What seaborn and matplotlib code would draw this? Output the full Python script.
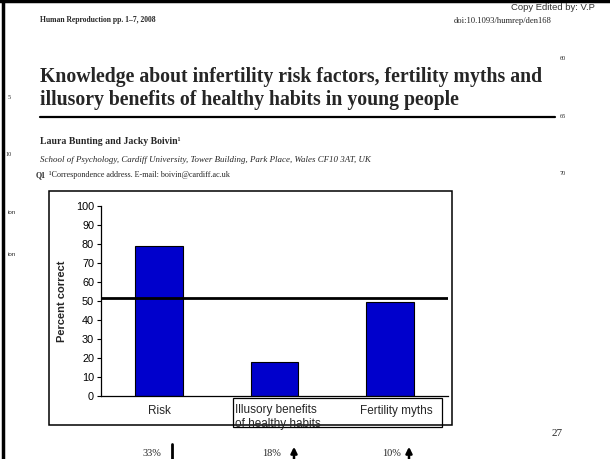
import matplotlib
matplotlib.use("Agg")
import matplotlib.pyplot as plt
import seaborn as sns
import pandas as pd
from matplotlib.patches import Rectangle
from matplotlib.lines import Line2D

# ---- data ----
categories = ["Risk", "Illusory benefits", "Fertility myths"]
percent_correct = [79, 18, 49.5]
reference_level = 51.5
y_ticks = list(range(0, 101, 10))
bottom_notes = ["33%", "18%", "10%"]

sns.set_style("white")
plt.rcParams["font.family"] = ["Liberation Sans", "DejaVu Sans"]

W, H = 610, 459
fig = plt.figure(figsize=(W / 100, H / 100), dpi=100)

def fx(x):
    return x / W

def fy(y):
    return 1 - y / H

SERIF = ["Liberation Serif", "DejaVu Serif"]
SANS = ["Liberation Sans", "DejaVu Sans"]

# ---- chart axes ----
ax = fig.add_axes([fx(101), fy(396), (448 - 101) / W, (396 - 206) / H])
df = pd.DataFrame({"category": categories, "value": percent_correct})
sns.barplot(data=df, x="category", y="value", color="#0000CC", saturation=1,
            width=0.41, edgecolor="black", linewidth=0.8, ax=ax)
ax.axhline(reference_level, color="black", lw=2)
ax.set_xlim(-0.5, 2.5)
ax.set_ylim(0, 100)
ax.set_yticks(y_ticks)
ax.set_yticklabels([str(t) for t in y_ticks], fontsize=7.8, family=SANS)
ax.set_xticks([])
ax.set_xlabel("")
ax.set_ylabel("")
ax.tick_params(axis="y", direction="out", length=3, width=0.8, pad=2, left=True, colors="black")
for s in ["top", "right"]:
    ax.spines[s].set_visible(False)
for s in ["left", "bottom"]:
    ax.spines[s].set_color("black")
    ax.spines[s].set_linewidth(0.9)
ax.patch.set_alpha(0)

fig.text(fx(62), fy(301), "Percent correct", rotation=90, ha="center", va="center",
         fontsize=8, weight="bold", family=SANS)

# outer chart box and label box
fig.add_artist(Rectangle((fx(49), fy(425)), (452 - 49) / W, (425 - 191) / H,
                         transform=fig.transFigure, fill=False, lw=1.1, ec="black"))
fig.add_artist(Rectangle((fx(233), fy(427)), (442 - 233) / W, (427 - 398) / H,
                         transform=fig.transFigure, fill=False, lw=0.9, ec="black"))

fig.text(fx(159), fy(411), categories[0], ha="center", va="center", fontsize=8.5, family=SANS)
fig.text(fx(235), fy(410), "Illusory benefits", ha="left", va="center", fontsize=8.5, family=SANS)
fig.text(fx(235), fy(424), "of healthy habits", ha="left", va="center", fontsize=8.5, family=SANS)
fig.text(fx(396), fy(411), categories[2], ha="center", va="center", fontsize=8.5, family=SANS)

# ---- page decorations ----
fig.add_artist(Line2D([fx(3), fx(3)], [0, 1], lw=2.5, color="black", transform=fig.transFigure))
fig.add_artist(Line2D([0, 1], [fy(1), fy(1)], lw=2.5, color="black", transform=fig.transFigure))

fig.text(fx(40), fy(20), "Human Reproduction pp. 1\u20137, 2008", ha="left", va="center",
         fontsize=5.5, weight="bold", family=SERIF)
fig.text(fx(552), fy(21), "doi:10.1093/humrep/den168", ha="right", va="center",
         fontsize=6.2, family=SERIF)
fig.text(fx(595), fy(7), "Copy Edited by: V.P", ha="right", va="center",
         fontsize=6.8, family=SANS, color="#333333")

fig.text(fx(40), fy(77), "Knowledge about infertility risk factors, fertility myths and",
         ha="left", va="center", fontsize=14.2, weight="bold", family=SERIF)
fig.text(fx(40), fy(100), "illusory benefits of healthy habits in young people",
         ha="left", va="center", fontsize=14.2, weight="bold", family=SERIF)
fig.add_artist(Line2D([fx(40), fx(555)], [fy(117), fy(117)], lw=1.6, color="black",
                      transform=fig.transFigure))

fig.text(fx(40), fy(142), "Laura Bunting and Jacky Boivin\u00b9", ha="left", va="center",
         fontsize=7.0, weight="bold", family=SERIF)
fig.text(fx(40), fy(160), "School of Psychology, Cardiff University, Tower Building, Park Place, Wales CF10 3AT, UK",
         ha="left", va="center", fontsize=6.4, style="italic", family=SERIF)
fig.text(fx(36), fy(175), "Q1", ha="left", va="center", fontsize=5.8, weight="bold", family=SERIF)
fig.text(fx(49), fy(175), "\u00b9Correspondence address. E-mail: boivin@cardiff.ac.uk",
         ha="left", va="center", fontsize=5.9, family=SERIF)

for txt, x, y in [("5", 9, 97), ("10", 9, 154)]:
    fig.text(fx(x), fy(y), txt, ha="center", va="center", fontsize=4.5, family=SERIF)
for txt, y in [("60", 58), ("65", 117), ("70", 173)]:
    fig.text(fx(563), fy(y), txt, ha="center", va="center", fontsize=4.5, family=SERIF)
for y in [212, 255]:
    fig.text(fx(12), fy(y), "ion", ha="center", va="center", fontsize=4.5, family=SANS)

# bottom notes with arrows
note_x = [152, 272, 392]
arrow_x = [172, 294, 409]
for i, (txt, nx, axx) in enumerate(zip(bottom_notes, note_x, arrow_x)):
    fig.text(fx(nx), fy(454), txt, ha="center", va="center", fontsize=7.5, family=SERIF)
    if i == 0:
        fig.add_artist(Line2D([fx(axx), fx(axx)], [fy(444), fy(462)], lw=2, color="black",
                              transform=fig.transFigure))
    else:
        ax.annotate("", xy=(axx, H - 444), xytext=(axx, -5), xycoords="figure pixels",
                    textcoords="figure pixels",
                    arrowprops=dict(arrowstyle="-|>", lw=1.8, color="black", mutation_scale=9),
                    annotation_clip=False)

fig.text(fx(557), fy(434), "27", ha="center", va="center", fontsize=8, family=SERIF)

fig.savefig("out.png", dpi=100)
